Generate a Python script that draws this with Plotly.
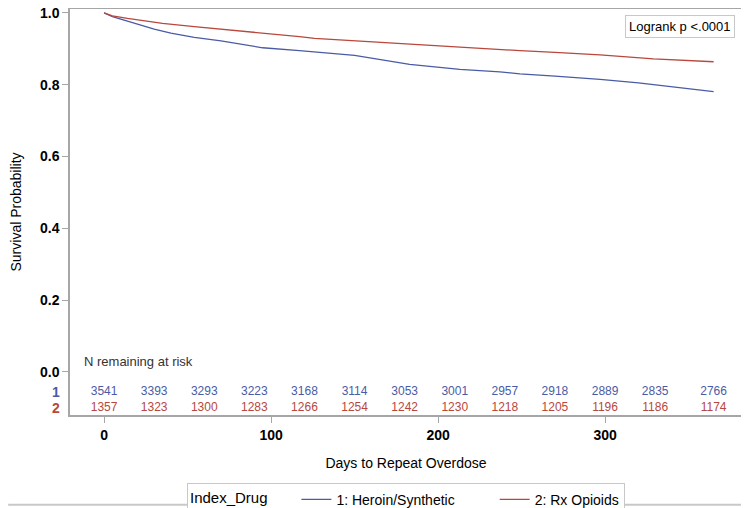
import plotly.graph_objects as go

# Kaplan-Meier estimates
days_heroin = [0, 5, 12, 20, 30, 40, 54, 70, 95, 117, 126, 150, 183, 213, 237, 249, 270, 297, 320, 341, 365]
surv_heroin = [1.0, 0.990, 0.980, 0.968, 0.955, 0.944, 0.932, 0.922, 0.903, 0.895, 0.892, 0.882, 0.857,
               0.843, 0.836, 0.830, 0.824, 0.815, 0.805, 0.793, 0.781]
days_rx = [0, 5, 14, 25, 35, 54, 75, 95, 117, 126, 150, 183, 217, 237, 249, 270, 297, 329, 365]
surv_rx = [1.0, 0.992, 0.985, 0.977, 0.971, 0.962, 0.953, 0.945, 0.934, 0.929, 0.922, 0.913, 0.903,
           0.897, 0.895, 0.890, 0.883, 0.872, 0.864]

# numbers at risk
risk_days = [0, 30, 60, 90, 120, 150, 180, 210, 240, 270, 300, 330, 365]
risk_heroin = [3541, 3393, 3293, 3223, 3168, 3114, 3053, 3001, 2957, 2918, 2889, 2835, 2766]
risk_rx = [1357, 1323, 1300, 1283, 1266, 1254, 1242, 1230, 1218, 1205, 1196, 1186, 1174]

BLUE = "#4a5ba6"
RED = "#b8473c"
GRID = "#a6a6a6"
FONT = "Liberation Sans, Arial, sans-serif"
NBSP = "\u00a0"

fig = go.Figure()
fig.add_trace(go.Scatter(x=days_heroin, y=surv_heroin, mode="lines",
                         line=dict(color=BLUE, width=1.3), name="1: Heroin/Synthetic" + NBSP * 9))
fig.add_trace(go.Scatter(x=days_rx, y=surv_rx, mode="lines",
                         line=dict(color=RED, width=1.3), name="2: Rx Opioids"))

# at-risk table inside plot
fig.add_trace(go.Scatter(x=risk_days, y=[-0.056] * len(risk_days), mode="text",
                         text=[str(v) for v in risk_heroin], textfont=dict(color=BLUE, size=12, family=FONT),
                         showlegend=False, hoverinfo="skip"))
fig.add_trace(go.Scatter(x=risk_days, y=[-0.100] * len(risk_days), mode="text",
                         text=[str(v) for v in risk_rx], textfont=dict(color=RED, size=12, family=FONT),
                         showlegend=False, hoverinfo="skip"))

fig.add_annotation(x=-13, y=0.03, xref="x", yref="y", text="N remaining at risk", showarrow=False,
                   xanchor="left", font=dict(size=13, color="#333333", family=FONT))
fig.add_annotation(x=-0.012, y=-0.056, xref="paper", yref="y", text="1", showarrow=False,
                   xanchor="right", font=dict(size=14, color=BLUE, family=FONT, weight="bold"))
fig.add_annotation(x=-0.012, y=-0.100, xref="paper", yref="y", text="2", showarrow=False,
                   xanchor="right", font=dict(size=14, color=RED, family=FONT, weight="bold"))

fig.add_annotation(x=0.99, y=0.985, xref="paper", yref="paper", text="Logrank p <.0001", showarrow=False,
                   xanchor="right", yanchor="top", bordercolor="#c8c8c8", borderwidth=1, borderpad=3,
                   bgcolor="white", font=dict(size=13, color="black", family=FONT))

# right and bottom edge of the outer frame
fig.add_shape(type="line", xref="paper", yref="paper", x0=1.006, x1=1.006, y0=-0.221, y1=1.0,
              line=dict(color="#c8c8c8", width=2))
fig.add_shape(type="line", xref="paper", yref="paper", x0=-0.092, x1=1.006, y0=-0.221, y1=-0.221,
              line=dict(color="#c8c8c8", width=2))

fig.update_layout(
    width=741, height=500,
    margin=dict(l=62, r=7, t=1, b=93, autoexpand=False),
    paper_bgcolor="white", plot_bgcolor="white",
    font=dict(family=FONT, color="black"),
    legend=dict(orientation="h", x=0.5, xanchor="center", y=-0.167, yanchor="top",
                title=dict(text="Index_Drug     ", font=dict(size=15)),
                font=dict(size=14), bordercolor="#c8c8c8", borderwidth=1),
    xaxis=dict(range=[-20.4, 382], tickvals=[0, 100, 200, 300], showgrid=False, zeroline=False,
               showline=True, linecolor=GRID, linewidth=1.5, mirror=True, automargin=False,
               ticks="outside", ticklen=6, tickcolor=GRID,
               tickfont=dict(size=14, weight="bold"),
               title=dict(text="Days to Repeat Overdose", font=dict(size=14), standoff=17)),
    yaxis=dict(range=[-0.12, 1.011], tickvals=[0, 0.2, 0.4, 0.6, 0.8, 1.0], tickformat=".1f",
               showgrid=False, zeroline=False, automargin=False, ticklabeloverflow="allow",
               showline=True, linecolor=GRID, linewidth=1.5, mirror=True,
               ticks="outside", ticklen=6, tickcolor=GRID,
               tickfont=dict(size=14, weight="bold"),
               title=dict(text="Survival Probability", font=dict(size=14), standoff=16)),
)

fig.write_html("out.html")
